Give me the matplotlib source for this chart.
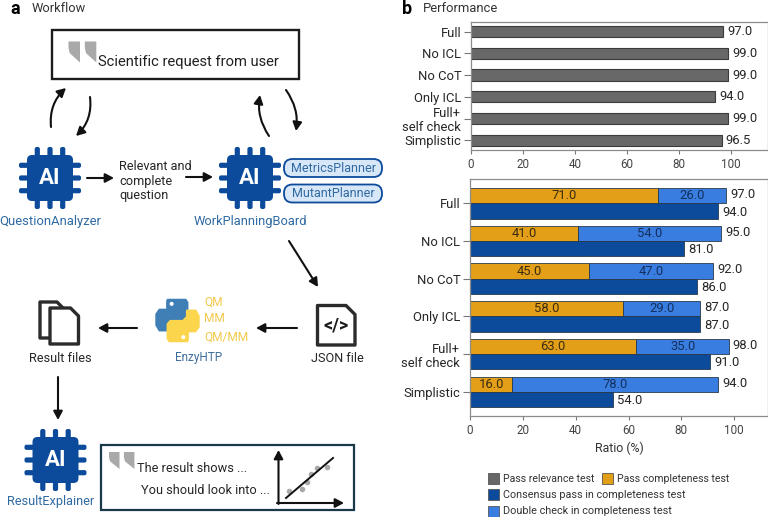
import matplotlib
matplotlib.use("Agg")
import matplotlib.pyplot as plt
from matplotlib.patches import FancyArrowPatch, FancyBboxPatch, Polygon, Rectangle, Circle

plt.rcParams["font.family"] = ["Roboto", "DejaVu Sans"]

# ------------------------------------------------------------
#   data
# ------------------------------------------------------------
top_labels = ["Full", "No ICL", "No CoT", "Only ICL", "Full+\nself check", "Simplistic"]
relevance = [97.0, 99.0, 99.0, 94.0, 99.0, 96.5]

bottom_labels = ["Full", "No ICL", "No CoT", "Only ICL", "Full+\nself check", "Simplistic"]
completeness = [71.0, 41.0, 45.0, 58.0, 63.0, 16.0]
double_check = [26.0, 54.0, 47.0, 29.0, 35.0, 78.0]
totals = [97.0, 95.0, 92.0, 87.0, 98.0, 94.0]
consensus = [94.0, 81.0, 86.0, 87.0, 91.0, 54.0]
x_ticks = [0, 20, 40, 60, 80, 100]

GREY = "#686868"
ORANGE = "#e39f17"
NAVY = "#0c4a9b"
BLUE = "#3a7de0"
EDGE = "#2a3a4a"
TXT = "#262626"
LABEL_BLUE = "#2f6aa3"
W, H = 768, 517

fig = plt.figure(figsize=(W / 100, H / 100), dpi=100)


def px_axes(x0, y0, x1, y1):
    return fig.add_axes([x0 / W, 1 - y1 / H, (x1 - x0) / W, (y1 - y0) / H])


def style_axes(ax, labels):
    for s in ax.spines.values():
        s.set_color("#8c8c8c")
        s.set_linewidth(0.9)
    ax.set_yticks(range(len(labels)))
    ax.set_yticklabels(labels, fontsize=9.4, color=TXT, linespacing=1.1)
    ax.set_xticks(x_ticks)
    ax.tick_params(axis="x", labelsize=8.4, colors="#444444", length=3, width=0.8, color="#777777", pad=3)
    ax.tick_params(axis="y", length=5, width=0.8, color="#777777", pad=2)


# ------------------------------------------------------------
#   panel b, top
# ------------------------------------------------------------
ax_top = px_axes(471, 22, 768, 150)
ax_top.barh(range(6), relevance, height=0.52, color=GREY, edgecolor="#3c3c3c", linewidth=0.8)
for i, v in enumerate(relevance):
    ax_top.text(v + 1.4, i, f"{v:.1f}", va="center", ha="left", fontsize=9.4, color=TXT)
ax_top.set_xlim(0, 114.2)
ax_top.set_ylim(5.45, -0.447)
style_axes(ax_top, top_labels)

# ------------------------------------------------------------
#   panel b, bottom
# ------------------------------------------------------------
ax_bot = px_axes(470, 179.5, 768, 415.7)
h = 0.405
ys = list(range(6))
ax_bot.barh([y - h / 2 for y in ys], completeness, height=h, color=ORANGE, edgecolor=EDGE, linewidth=0.6)
ax_bot.barh([y - h / 2 for y in ys], double_check, left=completeness, height=h, color=BLUE, edgecolor=EDGE, linewidth=0.6)
ax_bot.barh([y + h / 2 for y in ys], consensus, height=h, color=NAVY, edgecolor=EDGE, linewidth=0.6)
for i in ys:
    ax_bot.text(completeness[i] / 2, i - h / 2, f"{completeness[i]:.1f}", ha="center", va="center", fontsize=9.4, color="#3a2c10")
    ax_bot.text(completeness[i] + double_check[i] / 2, i - h / 2, f"{double_check[i]:.1f}", ha="center", va="center", fontsize=9.4, color="#12305e")
    ax_bot.text(totals[i] + 1.5, i - h / 2 - 0.03, f"{totals[i]:.1f}", ha="left", va="center", fontsize=9.4, color=TXT)
    ax_bot.text(consensus[i] + 1.5, i + h / 2 + 0.03, f"{consensus[i]:.1f}", ha="left", va="center", fontsize=9.4, color=TXT)
ax_bot.set_xlim(0, 112.8)
ax_bot.set_ylim(5.63, -0.63)
style_axes(ax_bot, bottom_labels)
ax_bot.set_xlabel("Ratio (%)", fontsize=8.9, color="#333333", labelpad=3)

# ------------------------------------------------------------
#   overlay in pixel coordinates for panel a and the legend
# ------------------------------------------------------------
ov = fig.add_axes([0, 0, 1, 1], zorder=5)
ov.set_xlim(0, W)
ov.set_ylim(H, 0)
ov.axis("off")


def label(x, y, s, size=9.2, color=TXT, ha="center", **kw):
    ov.text(x, y, s, fontsize=size, color=color, ha=ha, va="center", **kw)


def arrow(p0, p1, rad=0.0):
    ov.add_patch(FancyArrowPatch(p0, p1, connectionstyle=f"arc3,rad={rad}", arrowstyle="-|>,head_length=3.2,head_width=1.7",
                                 mutation_scale=1.6, lw=1.5, color="#111111", shrinkA=0, shrinkB=0))


def chip(cx, cy):
    for off in (-12.7, 0, 12.7):
        for (x, y, w, hh) in [(cx + off - 2.6, cy - 31, 5.2, 62), (cx - 31, cy + off - 2.6, 62, 5.2)]:
            ov.add_patch(FancyBboxPatch((x + 1, y + 1), w - 2, hh - 2, boxstyle="round,pad=1,rounding_size=2", fc=NAVY, ec="none"))
    ov.add_patch(FancyBboxPatch((cx - 21, cy - 21), 42, 42, boxstyle="round,pad=2,rounding_size=5", fc=NAVY, ec="none"))
    ov.text(cx, cy + 0.5, "AI", color="white", fontsize=16, fontweight="bold", ha="center", va="center")


def quote(x, y, w, hh):
    for dx in (0, w * 1.42):
        ov.add_patch(Polygon([(x + dx, y), (x + dx + w, y), (x + dx + w, y + hh), (x + dx + w * 0.6, y + hh * 0.8),
                              (x + dx + 0.1 * w, y + hh * 0.55), (x + dx, y + hh * 0.3)], closed=True, fc="#a9a9a9", ec="none"))


def doc(x0, y0, x1, y1, ear=9):
    ov.add_patch(Polygon([(x0, y0), (x1 - ear, y0), (x1, y0 + ear), (x1, y1), (x0, y1)], closed=True, fc="white",
                         ec="#2b2b2b", lw=2.4, joinstyle="round"))


# outline of the blue half of the logo, in fractions of its size
SNAKE = [(0.28, 0.04), (0.68, 0.04), (0.72, 0.1), (0.72, 0.42), (0.66, 0.49), (0.38, 0.49), (0.29, 0.58),
         (0.29, 0.72), (0.1, 0.72), (0.03, 0.6), (0.03, 0.36), (0.1, 0.26), (0.5, 0.26), (0.5, 0.22), (0.27, 0.22), (0.27, 0.08)]


def snake(x, y, s):
    # the yellow half mirrors the blue one through the centre
    ov.add_patch(Polygon([(x + a * s, y + b * s) for a, b in SNAKE], closed=True, fc="#3f7fb6", ec="#3f7fb6", lw=1.5, joinstyle="round"))
    ov.add_patch(Polygon([(x + (1 - a) * s, y + (1 - b) * s) for a, b in SNAKE], closed=True, fc="#fbd54c", ec="#fbd54c", lw=1.5, joinstyle="round"))
    ov.add_patch(Circle((x + 0.37 * s, y + 0.13 * s), 0.045 * s, fc="white", ec="none"))
    ov.add_patch(Circle((x + 0.63 * s, y + 0.87 * s), 0.045 * s, fc="white", ec="none"))


# headers
ov.text(10, 9, "a", fontsize=13, fontweight="bold", color="black", va="center")
label(32, 9, "Workflow", size=9.2, ha="left", color="#333333")
ov.text(402, 9, "b", fontsize=13, fontweight="bold", color="black", va="center")
label(423, 9, "Performance", size=9.4, ha="left", color="#333333")

# request box
ov.add_patch(Rectangle((52, 29.5), 247, 49.5, fc="white", ec="#1c1c1c", lw=1.7))
quote(68.5, 41.5, 11.5, 21)
label(98, 62, "Scientific request from user", size=10.6, ha="left", color="#202020")

# agents
chip(50, 178)
chip(250, 178)
chip(55.5, 460)
label(50, 221, "QuestionAnalyzer", size=9.4, color=LABEL_BLUE)
label(250, 221, "WorkPlanningBoard", size=9.3, color=LABEL_BLUE)
label(51, 501, "ResultExplainer", size=9.2, color=LABEL_BLUE)
label(119, 166, "Relevant and", ha="left")
label(119, 181, "complete", ha="left")
label(119, 195, "question", ha="left")

for y0, name in ((159, "MetricsPlanner"), (184.5, "MutantPlanner")):
    ov.add_patch(FancyBboxPatch((292, y0 + 8), 82, 2, boxstyle="round,pad=8,rounding_size=8.5", fc="#d8e7f8", ec=NAVY, lw=1.3))
    label(333, y0 + 9.3, name, size=9, color=LABEL_BLUE)

# arrows of the workflow
arrow((51, 127), (66, 88), rad=-0.25)
arrow((90, 97), (76, 136), rad=-0.25)
arrow((269, 136), (260, 95), rad=-0.2)
arrow((286, 90), (296, 131), rad=-0.2)
arrow((87, 178), (114, 178))
arrow((186, 177), (213, 177))
arrow((289, 241), (318, 287))
arrow((297, 328), (256, 328))
arrow((137, 328), (98, 328))
arrow((58, 377), (58, 420))

# files and EnzyHTP
doc(317.5, 305.5, 355, 345)
label(336, 326, "</>", size=13, fontweight="bold", color="#1c1c1c")
label(337, 358, "JSON file", size=9.1)
doc(40, 302, 63, 338, ear=6)
doc(50, 308, 78.5, 344, ear=8)
label(60, 358, "Result files", size=9.2)
snake(155, 298, 45)
label(199, 358, "EnzyHTP", size=8.5, color="#3f6f9c")
for y, m in ((302, "QM"), (319, "MM"), (337, "QM/MM")):
    label(204, y, m, size=8.6, ha="left", color="#f2c94a")

# explainer box
ov.add_patch(Rectangle((100.5, 445), 253.5, 65, fc="white", ec="#17394a", lw=1.6))
quote(109, 452, 10.5, 17)
label(137, 468, "The result shows ...", ha="left")
label(141, 491, "You should look into ...", ha="left")
arrow((278.5, 504), (278.5, 450))
arrow((277, 503), (344, 503))
ov.scatter([289, 302, 307, 311, 317, 327], [491, 489, 482, 474, 468, 467], s=9, color="#a9a9a9", zorder=3)
ov.plot([286, 333], [498, 458], color="#111111", lw=1.4, zorder=4)

# legend
for x, y, c, name, size in [(488, 473, GREY, "Pass relevance test", 7.6), (602, 473, ORANGE, "Pass completeness test", 7.6),
                            (488, 489, NAVY, "Consensus pass in completeness test", 7.75), (488, 506, BLUE, "Double check in completeness test", 7.8)]:
    ov.add_patch(Rectangle((x, y), 11, 10.5, fc=c, ec="#555555", lw=0.6))
    label(x + 15, y + 5.5, name, size=size, ha="left", color="#333333")

fig.savefig("out.png", dpi=100)
